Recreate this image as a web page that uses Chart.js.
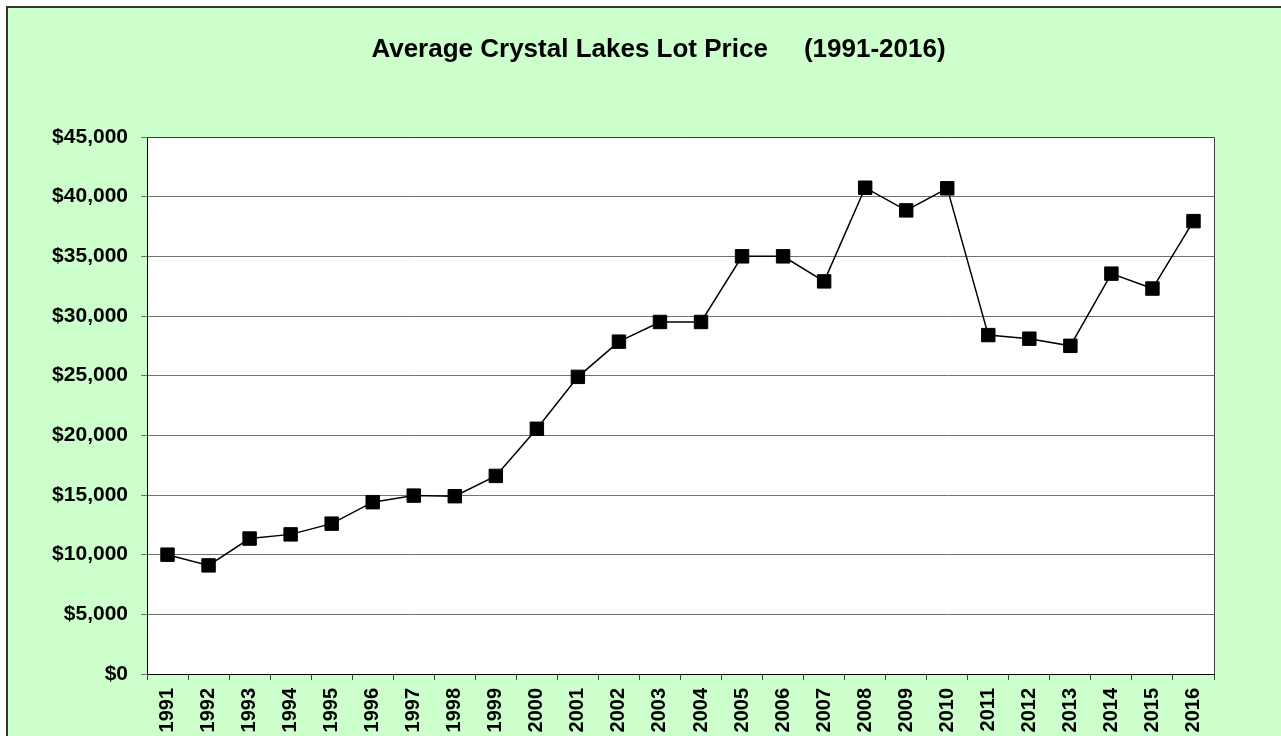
<!DOCTYPE html>
<html>
<head>
<meta charset="utf-8">
<script src="https://cdn.jsdelivr.net/npm/chart.js@4"></script>
<style>
  html, body { margin: 0; padding: 0; background: #fff; overflow: hidden; }
  #frame {
    position: absolute; left: 6px; top: 6px; width: 1400px; height: 900px;
    background: #ccffcc; border-left: 2px solid #333; border-top: 2px solid #333;
  }
  #chart { position: absolute; left: 0; top: 0; }
</style>
</head>
<body>
<div id="frame"></div>
<canvas id="chart" width="1281" height="736"></canvas>
<script>
// data
const years = ['1991','1992','1993','1994','1995','1996','1997','1998','1999','2000',
               '2001','2002','2003','2004','2005','2006','2007','2008','2009','2010',
               '2011','2012','2013','2014','2015','2016'];
const prices = [10000, 9100, 11350, 11700, 12600, 14400, 14950, 14900, 16600, 20550,
                24900, 27850, 29500, 29500, 35000, 35000, 32900, 40750, 38850, 40700,
                28400, 28100, 27500, 33550, 32300, 37950];
const yMin = 0, yMax = 45000, yStep = 5000;
const titleText = 'Average Crystal Lakes Lot Price     (1991-2016)';

const font = 'Arial, "Liberation Sans", sans-serif';

// white plot area, dark frame on top/right, and the title (centred a bit left of the plot)
const plotArea = {
    id: 'plotArea',
    beforeDraw(chart) {
        const a = chart.chartArea, ctx = chart.ctx;
        ctx.save();
        ctx.fillStyle = '#fff';
        ctx.fillRect(a.left, a.top, a.right - a.left, a.bottom - a.top);
        ctx.restore();
    },
    afterDatasetsDraw(chart) {
        const a = chart.chartArea, ctx = chart.ctx;
        ctx.save();
        ctx.strokeStyle = '#404040';
        ctx.lineWidth = 1;
        ctx.beginPath();
        ctx.moveTo(a.left, a.top + 0.5);
        ctx.lineTo(a.right + 0.5, a.top + 0.5);
        ctx.lineTo(a.right + 0.5, a.bottom);
        ctx.stroke();
        ctx.restore();
    },
    afterDraw(chart) {
        const ctx = chart.ctx;
        ctx.save();
        ctx.fillStyle = '#000';
        ctx.font = 'bold 26px ' + font;
        ctx.textAlign = 'center';
        ctx.textBaseline = 'middle';
        ctx.fillText(titleText, 658.5, 50);
        ctx.restore();
    }
};

new Chart(document.getElementById('chart'), {
    type: 'line',
    data: {
        labels: years,
        datasets: [{
            data: prices,
            borderColor: '#000',
            borderWidth: 1.5,
            tension: 0,
            pointStyle: 'rect',
            pointRadius: 9.5,
            pointHoverRadius: 9.5,
            pointBackgroundColor: '#000',
            pointBorderColor: '#000',
            pointBorderWidth: 1
        }]
    },
    options: {
        responsive: false,
        animation: false,
        devicePixelRatio: 1,
        layout: { padding: { left: 0, right: 67, top: 137, bottom: 0 } },
        plugins: {
            legend: { display: false },
            tooltip: { enabled: false },
            title: { display: false }
        },
        scales: {
            x: {
                offset: true,
                border: { color: '#000', width: 1 },
                grid: { offset: true, drawOnChartArea: false, drawTicks: true, tickLength: 6, tickColor: '#404040' },
                ticks: {
                    autoSkip: false, minRotation: 90, maxRotation: 90, padding: 8,
                    color: '#000', font: { family: font, size: 20, weight: 'bold' }
                },
                afterFit(scale) { scale.height = 62; }
            },
            y: {
                min: yMin, max: yMax,
                border: { color: '#000', width: 1 },
                grid: { color: '#707070', lineWidth: 1, drawTicks: true, tickLength: 6, tickColor: '#707070' },
                ticks: {
                    stepSize: yStep, padding: 13, color: '#000',
                    font: { family: font, size: 21, weight: 'bold' },
                    callback: v => '$' + v.toLocaleString('en-US')
                },
                afterFit(scale) { scale.width = 147; }
            }
        }
    },
    plugins: [plotArea]
});
</script>
</body>
</html>
